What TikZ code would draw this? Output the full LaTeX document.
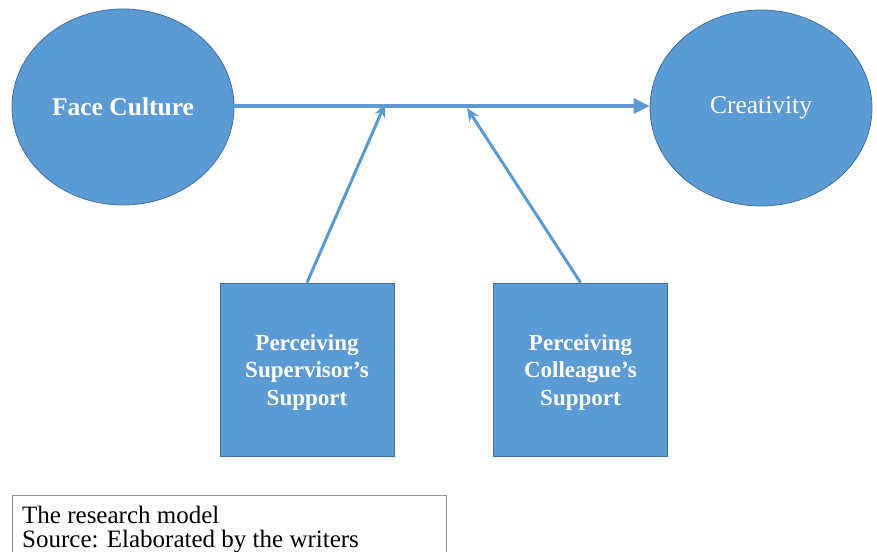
\documentclass[tikz,border=0pt]{standalone}
\usepackage{fontspec}
\setmainfont{Liberation Serif}
\usetikzlibrary{shapes.geometric,arrows.meta}
\definecolor{fillblue}{HTML}{5B9BD5}
\definecolor{edgeblue}{HTML}{41719C}
\definecolor{capedge}{HTML}{7F93AE}
\tikzset{
  oval/.style={ellipse,fill=fillblue,draw=edgeblue,line width=0.8pt,inner sep=0pt,
    minimum width=222pt,minimum height=196pt,text=white,font=\fontsize{25.5}{30}\selectfont},
  sbox/.style={rectangle,fill=fillblue,draw=edgeblue,line width=0.8pt,inner sep=0pt,
    minimum width=174pt,minimum height=173pt,text=white,align=center,
    font=\bfseries\fontsize{23}{27.5}\selectfont},
  conn/.style={draw=fillblue,line width=3.5pt},
  capline/.style={anchor=base west,inner sep=0pt,font=\fontsize{25}{29}\selectfont}
}
\begin{document}
\begin{tikzpicture}[x=1pt,y=-1pt]
\useasboundingbox (0,0) rectangle (877,551);
\clip (0,0) rectangle (877,551);
\node[oval,font=\bfseries\fontsize{25.5}{30}\selectfont] (fc) at (123,107) {Face Culture};
\node[oval] (cr) at (761,108) {Creativity};
\node[sbox] (sb) at (307,369.5) {};
\node[sbox] (cb) at (580.5,369.5) {};
\node[text=white,align=center,font=\bfseries\fontsize{23}{27.5}\selectfont] (sbt) at (307,372) {Perceiving\\Supervisor’s\\Support};
\node[text=white,align=center,font=\bfseries\fontsize{23}{27.5}\selectfont] (cbt) at (580.5,372) {Perceiving\\Colleague’s\\Support};
\coordinate (m1) at (385,104);
\coordinate (m2) at (467,108);
\draw[conn,-{Triangle[length=16pt,width=15pt]}] (fc.east |- 0,106) -- (cr.west |- 0,106);
\draw[conn,line width=3pt,-{Stealth[length=13pt,width=11pt]}] (sb.north) -- (m1);
\draw[conn,line width=3pt,-{Stealth[length=13pt,width=11pt]}] (cb.north) -- (m2);
\draw[capedge,line width=0.8pt] (12,495) rectangle (446,570);
\node[capline] (c1) at (22,523) {The research model};
\node[capline] (c2) at (22,547) {Source: Elaborated by the writers};
\end{tikzpicture}
\end{document}
